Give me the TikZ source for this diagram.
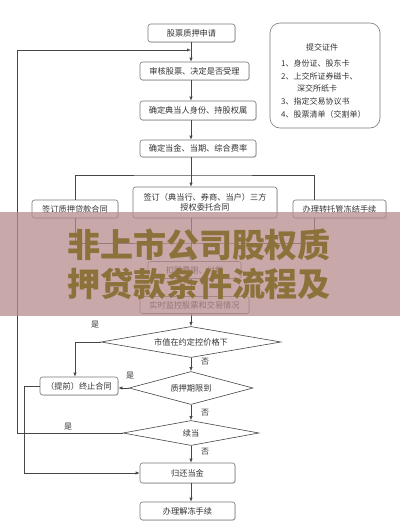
\documentclass[tikz,border=0pt]{standalone}
\usepackage{fontspec}
\setmainfont{Noto Sans CJK SC}
\usetikzlibrary{arrows.meta,shapes.geometric,shadows}
\definecolor{ln}{RGB}{70,70,70}
\definecolor{bd}{RGB}{120,120,120}
\definecolor{bannerbg}{RGB}{182,140,140}
\definecolor{bannertx}{RGB}{140,114,58}
\begin{document}
\begin{tikzpicture}[x=1pt,y=-1pt]
\tikzset{
 box/.style={draw=bd, rounded corners=2.5pt, fill=white, inner sep=0pt, font=\fontsize{8.2}{10}\selectfont, text=black!80, line width=0.6pt, drop shadow={shadow xshift=0.8pt, shadow yshift=-0.8pt, opacity=0.25}},
 dia/.style={draw=ln, fill=white, shape=diamond, inner sep=0pt, font=\fontsize{8.2}{10}\selectfont, text=black!80, line width=0.6pt},
 conn/.style={draw=ln, line width=0.6pt},
 arr/.style={conn, -{Latex[length=4pt,width=3.2pt]}},
 lbl/.style={font=\fontsize{8}{9}\selectfont, text=black!80, inner sep=0pt},
}
\useasboundingbox (0,0) rectangle (400,528);
\fill[white] (0,0) rectangle (400,528);
\coordinate (ax) at (191,0);
\coordinate (rx) at (314,0);
\coordinate (tx) at (75,0);
% boxes
\node[box, minimum width=87pt, minimum height=18pt] (n1) at (191.5,33) {股票质押申请};
\node[box, minimum width=109pt, minimum height=18pt] (n2) at (194.5,71) {审核股票、决定是否受理};
\node[box, minimum width=116pt, minimum height=19pt] (n3) at (198,110.5) {确定典当人身份、持股权属};
\node[box, minimum width=116pt, minimum height=17pt] (n4) at (198,148.5) {确定当金、当期、综合费率};
\node[box, minimum width=144pt, minimum height=31pt, align=center] (m) at (205,202.5) {签订（典当行、券商、当户）三方\\授权委托合同};
\node[box, minimum width=86pt, minimum height=18pt] (l) at (75,209) {签订质押贷款合同};
\node[box, minimum width=93pt, minimum height=18pt] (r) at (339.5,209) {办理转托管冻结手续};
\node[box, minimum width=93pt, minimum height=17pt] (n5) at (194.5,270) {扣除费用、付款};
\node[box, minimum width=109pt, minimum height=17pt] (n6) at (194.5,305) {实时监控股票和交易情况};
\node[dia, aspect=5.8, minimum width=180pt, minimum height=31pt] (d1) at (191,342) {市值在约定控价格下};
\node[box, minimum width=78pt, minimum height=18pt] (t) at (79,386) {（提前）终止合同};
\node[dia, aspect=3.8, minimum width=124pt, minimum height=33pt] (d2) at (191,388) {质押期限到};
\node[dia, aspect=5.4, minimum width=136pt, minimum height=25pt] (d3) at (191,433) {续当};
\node[box, minimum width=95pt, minimum height=20pt] (g) at (187.5,473) {归还当金};
\node[box, minimum width=95pt, minimum height=18pt] (b) at (187.5,511) {办理解冻手续};
% connectors
\draw[arr] (n1.south -| ax) -- (n2.north -| ax);
\draw[arr] (n2.south -| ax) -- (n3.north -| ax);
\draw[arr] (n3.south -| ax) -- (n4.north -| ax);
\draw[arr] (n4.south -| ax) -- (m.north -| ax);
\coordinate (br) at (191,175);
\draw[conn] (l.north) |- (br) -| (r.north -| rx);
\coordinate (bj) at (191,243);
\draw[conn] (l.south) |- (bj) -| (r.south -| rx);
\draw[conn] (m.south -| ax) -- (bj);
\draw[arr] (bj) -- (n5.north -| ax);
\draw[arr] (n5.south -| ax) -- (n6.north -| ax);
\draw[arr] (n6.south -| ax) -- (d1.north);
\draw[arr] (d1.west) -| (t.north -| tx);
\draw[arr] (d1.south) -- (d2.north);
\draw[arr] (d2.west) -- (t.east |- d2.west);
\draw[arr] (d2.south) -- (d3.north);
\coordinate (lp) at (17,50);
\draw[arr] (d3.west) -| (lp) -- (lp -| ax);
\draw[arr] (d3.south) -- (g.north -| ax);
\coordinate (lq) at (24,0);
\draw[arr] (t.west) -- (lq |- t.west) -- (lq |- g.west) -- (g.west);
\draw[arr] (g.south -| ax) -- (b.north -| ax);
% labels
\node[lbl] (y1) at (95,325) {是};
\node[lbl] (y2) at (130,376) {是};
\node[lbl] (y3) at (68,427) {是};
\node[lbl] (f1) at (205,362) {否};
\node[lbl] (f2) at (205,413) {否};
\node[lbl] (f3) at (205,452) {否};
% legend
\node[draw=bd, rounded corners=10pt, minimum width=110pt, minimum height=105pt, line width=0.6pt] (leg) at (325,75.5) {};
\node[lbl] (lt) at (322,47) {提交证件};
\node[lbl, anchor=west] (l1) at (281,63) {1、身份证、股东卡};
\node[lbl, anchor=west] (l2) at (281,76) {2、上交所证券磁卡、};
\node[lbl, anchor=west] (l3) at (297,88) {深交所纸卡};
\node[lbl, anchor=west] (l4) at (281,101) {3、指定交易协议书};
\node[lbl, anchor=west] (l5) at (281,114) {4、股票清单（交割单）};
% banner
\fill[bannerbg, opacity=0.75] (0,212) rectangle (400,316);
\node[font=\fontsize{33}{38}\selectfont\bfseries, text=bannertx, inner sep=0pt] (bt1) at (199,245) {非上市公司股权质};
\node[font=\fontsize{33}{38}\selectfont\bfseries, text=bannertx, inner sep=0pt] (bt2) at (199,284) {押贷款条件流程及};
\end{tikzpicture}
\end{document}
